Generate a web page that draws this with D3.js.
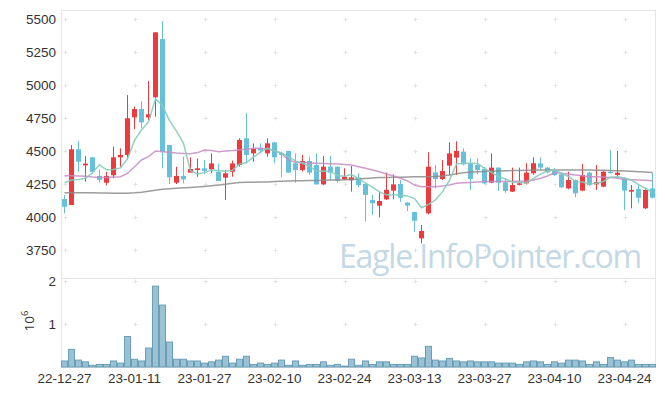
<!DOCTYPE html>
<html lang="en">
<head>
<meta charset="UTF-8">
<title>Candlestick</title>
<script src="https://d3js.org/d3.v7.min.js"></script>
<style>
    body { margin: 0; background: #fff; }
    svg { display: block; font-family: 'Open Sans', 'Liberation Sans', sans-serif; }
    .tick text { font-size: 13.5px; fill: #333; }
</style>
</head>
<body>
<svg id="chart" width="665" height="396"></svg>
<script>
// trading days
const dates = [
    "22-12-27","22-12-28","22-12-29","23-01-02","23-01-03","23-01-04","23-01-05","23-01-06","23-01-09","23-01-10",
    "23-01-11","23-01-12","23-01-13","23-01-16","23-01-17","23-01-18","23-01-19","23-01-20","23-01-25","23-01-26",
    "23-01-27","23-01-30","23-01-31","23-02-01","23-02-02","23-02-03","23-02-06","23-02-07","23-02-08","23-02-09",
    "23-02-10","23-02-13","23-02-14","23-02-15","23-02-16","23-02-17","23-02-20","23-02-21","23-02-22","23-02-23",
    "23-02-24","23-02-27","23-02-28","23-03-02","23-03-03","23-03-06","23-03-07","23-03-08","23-03-09","23-03-10",
    "23-03-13","23-03-14","23-03-15","23-03-16","23-03-17","23-03-20","23-03-21","23-03-22","23-03-23","23-03-24",
    "23-03-27","23-03-28","23-03-29","23-03-30","23-03-31","23-04-03","23-04-04","23-04-05","23-04-06","23-04-07",
    "23-04-10","23-04-11","23-04-12","23-04-13","23-04-14","23-04-17","23-04-18","23-04-19","23-04-20","23-04-21",
    "23-04-24","23-04-25","23-04-26","23-04-27","23-04-28"
];

const open = [
    4136,4091,4513,4391,4452,4311,4260,4316,4452,4470,
    4755,4818,4755,4907,5348,4545,4260,4311,4336,4356,
    4369,4361,4343,4298,4343,4394,4596,4482,4520,4482,
    4565,4485,4500,4407,4356,4424,4394,4247,4381,4381,
    4285,4278,4300,4250,4129,4086,4134,4200,4250,4109,
    4038,3838,4028,4338,4288,4389,4450,4495,4407,4394,
    4364,4260,4374,4263,4192,4245,4255,4331,4407,4374,
    4348,4323,4217,4280,4200,4336,4247,4230,4343,4318,
    4293,4192,4212,4066,4217
];
const high = [
    4167,4545,4578,4462,4455,4360,4343,4533,4520,4924,
    4836,4876,5030,5400,5485,4548,4381,4457,4452,4444,
    4432,4482,4406,4356,4427,4596,4788,4558,4558,4596,
    4568,4495,4502,4482,4470,4457,4482,4462,4462,4384,
    4369,4386,4331,4255,4167,4192,4336,4323,4280,4112,
    4040,3940,4490,4394,4432,4566,4573,4520,4444,4444,
    4380,4482,4376,4292,4374,4374,4407,4452,4452,4380,
    4369,4330,4343,4285,4401,4343,4394,4350,4508,4500,
    4300,4242,4242,4210,4336
];
const low = [
    4028,4091,4343,4268,4326,4260,4240,4293,4381,4437,
    4667,4672,4735,4760,4369,4250,4250,4255,4336,4305,
    4323,4331,4273,4129,4305,4381,4407,4419,4482,4457,
    4407,4300,4336,4260,4345,4320,4247,4240,4280,4260,
    4280,4192,4225,3965,4015,3997,4129,4134,4116,4045,
    3889,3800,4020,4217,4280,4318,4318,4390,4205,4323,
    4250,4255,4197,4184,4190,4240,4247,4320,4360,4330,
    4310,4220,4210,4149,4195,4235,4205,4225,4330,4293,
    4053,4066,4103,4060,4140
];
const close = [
    4078,4513,4419,4404,4343,4282,4311,4452,4470,4748,
    4818,4717,4778,5399,4495,4301,4311,4285,4364,4369,
    4349,4406,4273,4331,4406,4583,4470,4515,4503,4558,
    4452,4470,4336,4356,4424,4336,4247,4381,4336,4273,
    4305,4300,4242,4167,4104,4121,4205,4247,4146,4086,
    3972,3894,4381,4288,4348,4482,4500,4399,4288,4356,
    4255,4374,4260,4197,4242,4255,4336,4407,4374,4338,
    4318,4225,4280,4179,4318,4242,4265,4343,4338,4336,
    4200,4205,4146,4205,4146
];

// volume, millions of shares
const volume = [
    0.14,0.41,0.16,0.12,0.04,0.06,0.06,0.14,0.09,0.71,
    0.18,0.14,0.44,1.88,1.44,0.58,0.18,0.18,0.14,0.14,
    0.09,0.12,0.16,0.25,0.09,0.18,0.25,0.06,0.09,0.06,
    0.09,0.16,0.04,0.14,0.04,0.06,0.06,0.12,0.04,0.06,
    0.02,0.18,0.04,0.14,0.06,0.12,0.12,0.06,0.06,0.06,
    0.25,0.21,0.48,0.16,0.14,0.20,0.14,0.12,0.14,0.12,
    0.12,0.12,0.09,0.09,0.09,0.06,0.12,0.14,0.12,0.06,
    0.12,0.09,0.16,0.16,0.14,0.06,0.12,0.06,0.22,0.16,
    0.12,0.16,0.06,0.06,0.06
];

// moving averages
const ma5 = [
    4260,4280,4285,4293,4335,4395,4358,4360,4372,4440,
    4580,4660,4720,4895,4845,4730,4650,4558,4351,4326,
    4336,4355,4352,4346,4353,4400,4413,4455,4492,4522,
    4500,4485,4455,4425,4405,4384,4345,4349,4345,4315,
    4308,4322,4291,4257,4226,4190,4168,4169,4165,4160,
    4140,4070,4095,4130,4190,4280,4402,4408,4408,4405,
    4368,4336,4307,4288,4266,4264,4258,4292,4325,4348,
    4355,4332,4307,4268,4265,4250,4256,4270,4302,4305,
    4296,4280,4245,4218,4185
];
const ma20 = [
    4313,4313,4311,4308,4303,4300,4300,4303,4305,4330,
    4381,4432,4457,4500,4495,4490,4485,4482,4480,4488,
    4508,4503,4495,4500,4503,4508,4513,4520,4520,4515,
    4503,4482,4432,4414,4412,4410,4407,4405,4404,4401,
    4398,4394,4381,4369,4356,4343,4326,4311,4293,4273,
    4242,4230,4230,4230,4235,4242,4255,4260,4262,4265,
    4268,4268,4268,4268,4268,4270,4273,4280,4293,4311,
    4336,4331,4323,4318,4313,4305,4305,4303,4300,4293,
    4285,4283,4280,4278,4275
];
const ma60 = [
    4184,4184,4184,4184,4183,4182,4181,4180,4179,4180,
    4183,4188,4195,4203,4210,4214,4218,4221,4224,4227,
    4231,4236,4242,4248,4255,4261,4263,4264,4265,4266,
    4268,4271,4273,4274,4275,4276,4277,4278,4280,4281,
    4283,4285,4288,4291,4295,4299,4300,4301,4302,4303,
    4304,4305,4305,4306,4310,4318,4328,4336,4340,4343,
    4345,4347,4348,4350,4352,4353,4354,4355,4356,4356,
    4356,4356,4356,4356,4356,4356,4355,4354,4353,4351,
    4349,4346,4343,4340,4338
];

const priceTicks = [3750, 4000, 4250, 4500, 4750, 5000, 5250, 5500];
const volTicks = [1, 2];
const dateTicks = ["22-12-27","23-01-11","23-01-27","23-02-10","23-02-24","23-03-13","23-03-27","23-04-10","23-04-24"];

const svg = d3.select("#chart");
const plotLeft = 61, plotRight = 656, plotTop = 10, plotBottom = 367, volTop = 278;

const x = d3.scaleBand().domain(dates).range([plotLeft, plotRight]).padding(0);
const cx = d => x(d) + x.bandwidth() / 2;
const y = d3.scaleLinear().domain([3750, 5500]).range([250, 19]);
const yv = d3.scaleLinear().domain([0, 2]).range([plotBottom, 281]);

const bars = dates.map((d, i) => ({
    date: d, open: open[i], high: high[i], low: low[i], close: close[i],
    vol: volume[i], ma5: ma5[i], ma20: ma20[i], ma60: ma60[i]
}));

// frame
const frame = svg.append("g").attr("stroke", "#e6e6e6").attr("fill", "none");
frame.append("rect").attr("x", plotLeft + 0.5).attr("y", plotTop + 0.5)
    .attr("width", plotRight - plotLeft - 1).attr("height", plotBottom - plotTop);
frame.append("line").attr("x1", plotLeft).attr("x2", plotRight)
    .attr("y1", volTop + 0.5).attr("y2", volTop + 0.5);

// grid crosses
const cross = svg.append("g").attr("stroke", "#e3e3e3").attr("stroke-width", 1);
const crossPts = [];
dateTicks.forEach(d => {
    priceTicks.forEach(p => crossPts.push([cx(d), y(p)]));
    volTicks.forEach(v => crossPts.push([cx(d), yv(v)]));
});
crossPts.forEach(([px, py]) => {
    const xx = Math.round(px) + 0.5, yy = Math.round(py) + 0.5;
    cross.append("line").attr("x1", xx - 2).attr("x2", xx + 2).attr("y1", yy).attr("y2", yy);
    cross.append("line").attr("x1", xx).attr("x2", xx).attr("y1", yy - 2).attr("y2", yy + 2);
});

// watermark
svg.append("text")
    .attr("x", 339).attr("y", 268)
    .attr("font-size", 32).attr("letter-spacing", -1.2)
    .attr("fill", "#c4d8e5")
    .text("Eagle.InfoPointer.com");

// volume bars
svg.append("g").selectAll("rect").data(bars).join("rect")
    .attr("x", d => x(d.date) + 0.5)
    .attr("y", d => yv(d.vol))
    .attr("width", x.bandwidth() - 1)
    .attr("height", d => yv(0) - yv(d.vol))
    .attr("fill", "#9ac2d4")
    .attr("stroke", "#6a9fb8")
    .attr("stroke-width", 1);

// candles
const up = "#ee3a3d", down = "#66c0da";
const candle = svg.append("g").selectAll("g").data(bars).join("g");
candle.append("line")
    .attr("x1", d => cx(d.date)).attr("x2", d => cx(d.date))
    .attr("y1", d => y(d.high)).attr("y2", d => y(d.low))
    .attr("stroke", d => d.close >= d.open ? up : down);
candle.append("rect")
    .attr("x", d => cx(d.date) - 2.5)
    .attr("y", d => y(Math.max(d.open, d.close)))
    .attr("width", 5)
    .attr("height", d => Math.max(1.5, Math.abs(y(d.open) - y(d.close))))
    .attr("fill", d => d.close >= d.open ? up : down);

// moving average lines
const maLine = key => d3.line().x(d => cx(d.date)).y(d => y(d[key]));
svg.append("path").datum(bars).attr("d", maLine("ma60"))
    .attr("fill", "none").attr("stroke", "#8c8c8c").attr("stroke-width", 1.5).attr("opacity", 0.85);
svg.append("path").datum(bars).attr("d", maLine("ma20"))
    .attr("fill", "none").attr("stroke", "#c68cc6").attr("stroke-width", 1.5).attr("opacity", 0.85);
svg.append("path").datum(bars).attr("d", maLine("ma5"))
    .attr("fill", "none").attr("stroke", "#86cbbb").attr("stroke-width", 1.5).attr("opacity", 0.9);

// axes
svg.append("g").attr("transform", `translate(${plotLeft},0)`)
    .call(d3.axisLeft(y).tickValues(priceTicks).tickSize(0).tickPadding(5).tickFormat(d3.format("d")))
    .call(g => g.select(".domain").remove());
svg.append("g").attr("transform", `translate(${plotLeft},0)`)
    .call(d3.axisLeft(yv).tickValues(volTicks).tickSize(0).tickPadding(5).tickFormat(d3.format("d")))
    .call(g => g.select(".domain").remove());
svg.append("g").attr("transform", `translate(0,${plotBottom})`)
    .call(d3.axisBottom(x).tickValues(dateTicks).tickSize(0).tickPadding(6))
    .call(g => g.select(".domain").remove());

// volume unit
const unit = svg.append("text")
    .attr("transform", "translate(34,321) rotate(-90)")
    .attr("text-anchor", "middle")
    .attr("font-size", 13.5).attr("fill", "#333");
unit.append("tspan").text("10");
unit.append("tspan").attr("font-size", 9.5).attr("dy", -6).text("6");
</script>
</body>
</html>
